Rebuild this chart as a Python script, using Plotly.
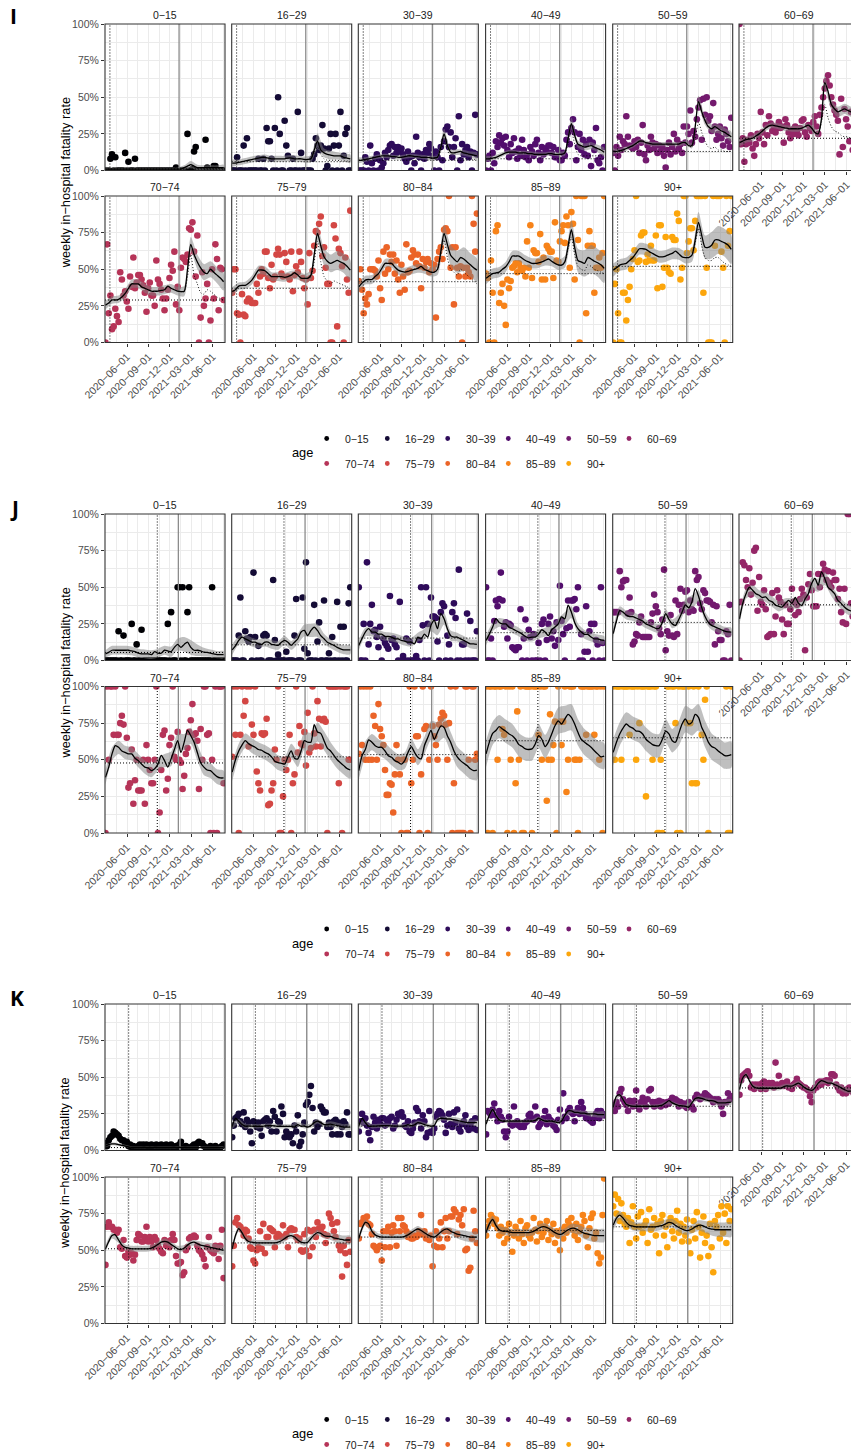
import datetime as dt
import plotly.graph_objects as go

W, H = 851, 1452
FONT = "Liberation Sans, Arial, sans-serif"

age_groups = ["0−15", "16−29", "30−39", "40−49", "50−59", "60−69",
              "70−74", "75−79", "80−84", "85−89", "90+"]
age_colors = ["#000004", "#140B35", "#2E0B5A", "#520E6D", "#731A6E", "#952667",
              "#B63458", "#D34744", "#EB6428", "#F78319", "#FCA60C"]

tick_dates = ["2020-06-01", "2020-09-01", "2020-12-01", "2021-03-01", "2021-06-01"]
tick_labels = ["2020−06−01", "2020−09−01", "2020−12−01", "2021−03−01", "2021−06−01"]
minor_dates = ["2020-04-16", "2020-07-17", "2020-10-16", "2021-01-15", "2021-04-16", "2021-07-16"]
y_ticks = [0, 25, 50, 75, 100]
y_labels = ["0%", "25%", "50%", "75%", "100%"]
y_minor = [12.5, 37.5, 62.5, 87.5]

x_start, x_end, x_end_cut = "2020-02-28", "2021-07-24", "2021-06-20"

# ---------------- panel I: weekly rates (%), one value per week from 2020-03-01
i01_pts = [0,0,0,8,11,0,9,0,0,0, 0,0,12,0,6,0,0,0,8,0, 0,0,0,0,0,0,0,0,0,0, 0,0,0,0,0,0,0,0,0,0,
           0,0,0,2,0,0,0,0,0,0, 25,0,0,1,13,16,0,0,0,0, 0,21,2,0,0,0,3,3,0,0, 0,0,0]
i02_pts = [0,0,0,9,0,0,0,17,0,22, 0,0,0,0,0,0,8,0,0,8, 0,29,20,20,8,0,29,0,50,25, 0,0,34,17,10,0,0,8,0,0,
           40,0,12,0,0,0,0,0,0,8, 11,22,17,14,17,31,15,0,3,15, 25,0,17,25,0,17,40,0,10,25, 29,0,0]
i03_pts = [0,0,0,0,9,6,0,17,5,0, 8,11,0,7,2,5,12,9,14,17, 18,10,16,12,16,13,15,11,8,6, 13,9,0,10,5,23,12,9,0,11,
           8,14,12,18,15,10,0,13,9,0, 16,7,20,28,30,16,26,9,16,22, 0,37,7,18,11,14,16,9,13,0, 12,38,11]
i04_pts = [0,8,10,0,12,5,20,16,24,19, 22,17,23,14,9,18,12,22,13,8, 15,10,21,14,9,11,7,16,13,10, 18,21,12,7,16,11,15,13,17,17,
           12,16,9,9,14,7,7,12,10,21, 26,18,29,35,26,7,16,25,14,21, 11,18,10,21,3,19,14,29,7,5, 9,0,16]
i05_pts = [12,0,16,10,23,14,20,18,37,23, 17,16,15,20,16,21,12,19,31,11, 7,17,14,23,19,15,18,12,17,13, 16,10,2,14,19,11,16,25,13,21,
           15,18,12,30,19,30,25,41,19,27, 23,35,43,48,21,49,38,50,34,37, 27,46,30,21,25,30,22,17,28,25, 20,16,36]
i06_pts = [100,18,22,6,18,21,19,24,15,10, 18,25,22,40,26,18,31,24,37,32, 27,30,26,29,33,29,30,19,35,31, 26,22,28,25,30,27,24,29,34,35,
           26,23,31,29,27,33,37,30,25,38, 43,50,56,61,65,58,50,45,41,38, 34,11,49,16,42,35,30,20,40,14, 35,25,30]
i07_pts = [0,67,20,32,9,11,23,18,14,48, 43,32,35,28,23,45,38,58,37,41, 46,46,43,39,34,21,37,41,32,32, 25,56,43,40,36,30,22,30,36,44,
           53,49,62,26,38,22,51,58,57,55, 60,78,77,82,62,45,73,0,17,48, 25,30,40,0,15,50,30,67,57,22, 51,50,29]
i08_pts = [34,50,50,20,19,0,33,19,18,28, 30,29,27,27,27,40,34,45,50,47, 62,62,44,37,53,43,45,60,64,60, 47,45,61,55,45,43,62,35,46,52,
           48,62,55,44,37,43,26,61,44,49, 66,76,75,81,86,59,65,51,40,40, 0,0,80,71,11,64,61,52,0,58, 43,34,90]
i09_pts = [42,50,36,20,30,26,33,50,50,50, 49,45,56,37,29,62,47,65,50,60, 55,60,47,56,43,34,53,45,36,67, 48,49,58,63,60,54,60,52,37,57,
           51,55,57,48,54,50,53,17,57,62, 65,57,77,78,76,100,51,65,26,65, 51,45,52,0,51,45,51,48,45,100, 81,62,88]
i10_pts = [47,44,0,56,34,0,76,80,27,34, 40,25,12,43,37,42,51,52,54,48, 54,51,49,51,45,69,51,80,44,63, 61,61,55,74,43,58,43,66,64,62,
           62,44,82,56,55,69,76,80,68,86, 80,51,89,81,43,100,70,0,100,100, 100,20,66,76,66,66,34,51,51,58, 51,61,100]
i11_pts = [0,40,50,20,0,0,34,34,15,29, 38,50,57,63,100,55,56,73,75,75, 55,60,56,66,56,56,73,37,80,80, 38,51,72,51,48,47,72,70,70,88,
           83,43,51,100,100,61,69,78,78,63, 83,100,100,100,100,34,100,51,0,0, 0,100,66,100,100,100,62,51,0,100, 66,76,100]

# fitted rate every two weeks
i01_fit = [1,1,1,1,1,1,1,1,1,1,1,1,1,1,1,1,1,1,1,1,1,1,1,1,2,3,4,3,2,2,2,2,2,2,2,2,2]
i02_fit = [5,5,5.5,6,6.5,7,7.5,8,8.5,9,9,8.5,8,8,8,8,8,8.5,8.5,8,8,8,7.5,7.5,8,14,20,14,12,11,10.5,10,10,10,9,8.5,8]
i03_fit = [7,7,7.5,8,8.5,9,9.5,10,10,10,9.5,9.5,9,9,9.5,10,10,9.5,9.5,9,9,9,8.5,8.5,9,16,25,17,12.5,12,12.5,13,12,11.5,11,10.5,10]
i04_fit = [8,8,8.5,9,10,11,12,12.5,12.5,12.5,12,12,12,11.5,11.5,11,11,11,11,11.5,11.5,11,11,11,12,22,32,24,18,17,16,16.5,17,16,15,14,12.5]
i05_fit = [13,13,13.5,14,15,16,17,18.5,20,20,19,18.5,18,18,18,18,18,18,18,18,18,19,19,17,17,30,47,40,34,30,28.5,30,28.5,27,26,24.5,23]
i06_fit = [19,20,21,21.5,22,23.5,25,27,29,30.5,31,30.5,30,29.5,29,28.5,28.5,28.5,28.5,29,30,31,29,26,25,35,60,54,45,42,40,41,42,41,40,39,38]
i07_fit = [25.5,27,29,29,29.5,31,33.5,37,40,40,40,38,37,36,35,35,35,35.5,36,38.5,37,36,35,34.7,35,50,67,60,55,51,48,47,50,48,46,44,41.5]
i08_fit = [34.7,36,38.5,39,39,40.5,42.6,46,49.4,49.5,49,47,45,45,45,45,44.5,45,46,47.6,46,44,43.8,43.8,46,60,74.4,66,58.5,55.5,54,55,56,55,54,52,49.4]
i09_fit = [38,40.5,42.6,43,43,45,47,50.5,54,54,54,51.5,49.4,48.5,48,48.5,49.4,50,50.6,52,50,49,48,48,50,62,74.4,67,59.6,57,55,58,57,55,53,51,49.4]
i10_fit = [43.8,45.5,47,47.5,48,50,51.7,55,59,59,59,57.5,56,55,54,54,54.4,55,56,57,55.5,54,53,52.8,55,66,77,65,56,55,54,58,57,55.5,54.4,53,50.6]
i11_fit = [49.4,51,52.8,53.5,54,56,58,61,64,64,63.5,62,60.8,59.5,58.5,58.5,59,60,60.8,62.4,60.5,58.5,58,58,59.6,70,82,73,65,65,66.4,70,70,69,68,66.5,63.5]

# half-width of the uncertainty band every four weeks
i01_hw = [1.5,1,1,1,1,1,1,1,1,1,1,1,1.5,2.5,2,1.5,1.5,1.5,2]
i02_hw = [2.5,2,2,2,2,2,2,2,2,2,2,2,2.5,5.5,3,3,2.5,2.5,3]
i03_hw = [2,1.5,1.5,1.5,1.5,1.5,1.5,1.5,1.5,1.5,1.5,1.5,1.5,3.5,2,2,2,2,2.5]
i04_hw = [2,1.5,1.5,1.5,1.5,1.5,1.5,1.5,1.5,1.5,1.5,1.5,2,4,2.5,2.5,2.5,2.5,3]
i05_hw = [2,1.5,1.5,1.5,1.5,1.5,1.5,1.5,1.5,1.5,1.5,1.5,2,4,3,3,3,3,3.5]
i06_hw = [2.5,2,2,2,2,2,2,2,2,2,2,2,2.5,4.5,3.5,3.5,3.5,3.5,4]
i07_hw = [3,2.5,2.5,3,3,3,3,3,3,3,3,3,3.5,5,5,5.5,5.5,5.5,6]
i08_hw = [3,2.5,2.5,3,3,3,3,3,3,3,3,3,3.5,5.5,6,6,6.5,6.5,7]
i09_hw = [3.5,3,3,3,3,3,3,3,3,3,3,3,4,6,7,7.5,8,8,8]
i10_hw = [4,3.5,3.5,3.5,3.5,3.5,3.5,3.5,3.5,3.5,3.5,3.5,4,6.5,8,9,9.5,9.5,10]
i11_hw = [4.5,4,4,4,4,4,4,4,4,4,4,4,4.5,7,8,9,9.5,9.5,10]

# counterfactual fit from week 44 on, every two weeks
i01_alt = [1,1,2,3,3.5,2.5,1.5,1.5,1.5,1.5,1.5,1.5,1.5,1.5,1.5]
i02_alt = [7.5,7.5,8,12,16,11,8,7,7,7,7,6.5,6.5,6.5,6.5]
i03_alt = [8.5,8.5,9,13,20,14,9,8,8.5,8.5,8,8,8,7.5,7.5]
i04_alt = [11,11,12,18,27,18,11,10,10,10,10,10,10,10,10]
i05_alt = [19,17,16,22,33,26,20,16,15,16,14,14,13,13,13]
i06_alt = [29,26,25,33,45,36,30,27,26,24,23,23,22,22,22]
i07_alt = [35,34.7,34.7,45,60,46,40,34,33,36,35,33,31,30,29]
i08_alt = [43.8,43.8,45,55,69,55,45,42,40,42,41,40,39,38,37]
i09_alt = [48,48,50,60,70,58,50,48,46,50,48,46,44,42,40]
i10_alt = [52.8,52.8,55,64,72,60,52,50,49,53,52,50,49,48,47]
i11_alt = [58,58,59.6,68,78,66,58,56,56,58,58,56,54,53,52]

i_base = [1, 6, 7, 8, 13, 22, 29, 37, 41.5, 47, 52]
i_vlines = ("2020-03-20", "2021-01-09")

# ---------------- panel J
j01_pts = [0,0,0,0,0,0,0,0,20,0, 0,17,0,0,0,0,25,0,0,11, 0,0,21,0,0,0,0,0,0,0, 0,0,0,0,0,0,0,0,25,0,
           33,0,0,0,50,50,0,50,0,0, 33,50,0,0,0,0,0,0,0,0, 0,0,0,0,0,50,0,0,0,0, 0,0,0]
j02_pts = [0,0,0,0,17,43,0,0,20,15, 13,16,0,60,16,0,10,0,0,17, 18,17,0,0,0,55,14,0,4,0, 0,0,0,6,0,0,0,0,17,42,
           0,0,0,43,8,67,5,0,0,0, 38,0,13,26,0,0,41,0,0,5, 0,16,0,0,40,0,23,0,23,0, 0,39,50]
j03_pts = [50,0,0,25,0,67,11,25,38,20, 21,16,9,23,0,15,12,10,8,44, 14,15,11,9,0,40,0,3,0,15, 0,13,0,0,0,3,0,14,50,24,
           0,50,25,0,43,30,30,29,13,0, 33,39,37,0,17,11,0,33,39,29, 0,62,0,11,11,0,32,0,27,0, 0,0,20]
j04_pts = [50,0,0,15,0,27,41,37,42,60, 41,23,26,15,25,24,9,8,7,9, 9,35,0,15,28,0,21,16,0,18, 0,0,12,0,25,28,0,14,25,30,
           15,20,10,26,14,51,27,18,0,22, 41,23,41,41,42,35,50,0,18,0, 6,37,6,20,25,0,25,14,11,0, 50,12,0]
j05_pts = [33,33,33,33,61,50,54,55,55,32, 43,33,11,13,18,17,26,30,16,16, 16,16,16,26,32,45,37,33,22,18, 28,62,7,20,17,31,17,16,41,18,
           38,49,34,38,47,48,33,41,35,34, 61,55,57,39,35,48,46,41,41,40, 26,38,11,37,20,14,14,0,0,20, 18,38,0]
j06_pts = [0,40,67,65,55,50,63,45,53,75, 77,34,57,40,38,48,35,16,17,18, 46,18,30,48,43,40,28,18,38,25, 25,35,49,40,31,38,33,42,49,45,
           7,43,52,59,48,37,37,37,59,50, 59,66,62,55,61,53,50,60,55,55, 42,49,33,26,49,25,100,100,39,30, 35,40,32]
j07_pts = [0,100,50,100,100,67,100,67,67,75, 80,74,100,65,31,34,57,20,36,50, 29,29,29,50,20,60,50,43,34,34, 50,100,0,14,43,67,70,29,37,60,
           65,100,52,50,69,50,48,30,39,54, 58,69,77,88,67,68,63,30,71,50, 100,100,67,68,0,50,0,100,0,100, 100,100,34]
j08_pts = [52,100,67,100,0,67,100,80,90,100, 59,100,74,67,100,42,34,29,68,67, 68,78,19,20,29,34,57,50,100,0, 0,25,50,43,50,67,0,34,40,100,
           55,73,61,60,69,46,82,55,58,100, 68,59,90,78,59,77,78,76,0,100, 100,100,100,100,100,34,100,0,100,100, 100,50,50]
j09_pts = [54,100,60,100,50,100,50,100,50,80, 73,50,88,71,66,60,43,26,26,34, 33,14,40,60,50,40,0,50,50,0, 0,100,34,50,100,66,66,0,40,100,
           71,73,0,50,100,73,66,60,50,74, 78,82,80,74,50,75,100,0,34,100, 0,0,0,0,0,100,100,50,0,100, 100,50,54]
j10_pts = [100,0,100,100,0,100,100,50,100,100, 71,67,100,0,100,50,100,0,34,83, 50,100,0,0,100,100,100,100,0,100, 100,100,67,100,50,100,100,22,50,81,
           50,60,76,0,100,76,60,76,100,28, 50,100,100,100,50,50,0,50,100,100, 100,67,100,100,100,100,67,100,100,50, 100,0,100]
j11_pts = [100,50,100,100,100,50,100,100,100,100, 67,100,100,100,50,100,75,100,100,100, 25,100,100,100,50,100,100,0,0,50,
           0,None,None,100,100,None,100,100,75,0, 100,0,100,100,100,75,100,75,34,100, 34,34,100,None,67,50,91,100,0,None,
           None,None,None,None,None,None,None,None,None,100, 0,0,100]

j01_fit = [4.5,5.5,7,7,7,7,7,7,6.5,6,5,4.5,4.5,4.5,4,6,5,5,7,6.5,6,9,11,9,11,12.5,9,7,7,6.5,5.7,5.5,5,4.5,4,4,4]
j02_fit = [7.3,10,13.7,16,14.8,13.7,12.5,12.5,11.4,11,12.5,12.5,11,10.7,10.3,12.5,13.7,12.5,10.3,12.5,14.8,19.4,20.5,17,20.5,22.8,20.5,17,14.8,12.5,11.4,10.3,9,8,7.3,7.3,7.3]
j03_fit = [10.3,15,19.4,21.7,19.4,19.4,18,18,16.4,16.4,16,14.8,14.8,13.7,13.2,12.5,12.5,11.4,16,14.8,18,16,24,27.4,21.7,32,28.5,21.7,17,16,16,14.8,13.7,12.5,11.4,11.4,11]
j04_fit = [13.7,18,22.8,28.5,26,25,25,22.8,21.7,20.5,19.4,18,16.4,15.5,16,16,18,21,19.4,17,21,22.8,25,29.7,28.5,37.7,33,26,21.7,19.4,17.8,17.8,16,14.8,14.8,14,13.7]
j05_fit = [18.3,27,34,33,31,30,30,29,28,27,25,24,23,22,22,26,32,28,25,24,28,33,38,36,40,49,44,36,30,26,24,23,22,21,20,19.5,19.4]
j06_fit = [28.5,39,45.6,50,48,45.6,44.5,43,43.4,41,40,37.7,37,36.5,39,41,39,43,39,37.7,42,45.6,52.5,56,51.4,60.5,56,50,48,45.6,41,39,36.5,34.7,33.8,33,32.5]
j07_fit = [38,45,54,59.6,58.5,56,55,54,54,51,49.4,47,45,44.4,42.6,43.8,47,53,49.4,45,50.6,57,63,55,62,70,66.4,62,55,48,45,43,42.6,40.4,38.5,37.6,37.6]
j08_fit = [41.5,50,56,60,63,61,59.6,58.5,57,56.5,55,54,52,49,48,47.5,47,52,56,51,50.6,56,63,62,62,74,69,68,63,58,56,53,50,48,46,44,43]
j09_fit = [42.6,52.8,57,63.5,62,59.6,58.5,58.5,56,52.8,51.7,49.4,48.3,47,49.4,55,59,55,51.7,50.6,59.6,65,70,64,68.7,73,72,66.4,62,56,52,49.4,47.6,46,43.8,42.6,43]
j10_fit = [54,62,68,70,72.6,71,69.4,67.6,66.4,64,60.3,59,57.4,57,57.4,60.8,66.4,64,59,62,67.6,73.2,76.6,74.4,77.8,81,79,74.4,68.7,64,62,60.3,58.5,56.2,54,52,52.5]
j11_fit = [55,62,67.6,71.6,74.4,72.6,71.6,69.6,69.4,67.6,64,62,60.3,59.6,59.6,64,69.6,67.6,63,62,68,74.4,77.8,74.4,75.5,81,79,72,67.6,62,59,58,56,54.4,52.8,52.8,53.5]

j01_hw = [2.5,3,3,3,3,3,3,3,3,3,3.5,4,5,5,4,3,2.5,2.5,2.5]
j02_hw = [3.5,3,3,3,3,3,3,3,3,3,3.5,4,4.5,4.5,3.5,3,3,3,3]
j03_hw = [3.5,3,3,3,3,3,3,3,3,3,3.5,4,4.5,4,3.5,3,3,3,3]
j04_hw = [3.5,3,3,3,3,3,3,3,3,3,3.5,4,4.5,4,3.5,3,3,3,3]
j05_hw = [3.5,3,3,3,3,3,3,3,3,3,3.5,4,4.5,4,3.5,3,3,3,3]
j06_hw = [4,3.5,3.5,3.5,3.5,3.5,3.5,3.5,3.5,3.5,4,4,4.5,4.5,4,3.5,3.5,3.5,3.5]
j07_hw = [5,4.5,4.5,4.5,4.5,4.5,4.5,4.5,4.5,4.5,5,5,5.5,5.5,5.5,5.5,5,5,5]
j08_hw = [6,5,5,5,5,5,5,5,5,5,5.5,6,6.5,6.5,6.5,6,6,6,6]
j09_hw = [6,5.5,5.5,5.5,5.5,5.5,5.5,5.5,5.5,5.5,6,6.5,7,7,7,7,7,7,7]
j10_hw = [9,8,8,8,8,8,8,8,8,8,8.5,9,9,9,9,9,9,9,9]
j11_hw = [9,8,8,8,8,8,8,8,8,8,8.5,9,9,9,9,9,9,9,9]

j_base = [5.5, 10.7, 15.3, 19, 26, 38, 47.8, 52, 53.5, 63, 65]
j_vlines = ("2020-10-08", "2021-01-06")

# ---------------- panel K
k01_pts = [5,3,7,9,10,13,12,11,10,8, 7,7,5,6,3,4,2,3,1,2, 3,4,2,4,1,4,3,2,4,3, 1,4,3,2,4,3,1,4,2,3,
           4,2,1,3,2,4,6,2,1,3, 2,2,1,3,4,2,5,6,5,5, 3,2,1,2,3,2,1,3,2,1, 2,3,4]
k02_pts = [9,17,22,23,25,20,18,26,16,21, 19,13,5,20,19,16,19,15,10,20, 21,22,17,20,13,27,23,13,20,19, 30,25,9,13,11,9,11,5,17,13,
           24,3,6,11,19,31,33,38,44,29, 13,19,16,18,30,28,26,26,16,19, 16,11,20,21,11,19,11,16,20,18, 26,11,11]
k03_pts = [13,20,25,19,22,17,12,7,16,23, 19,15,21,18,22,22,17,21,19,22, 23,15,17,21,25,24,26,23,17,16, 20,13,12,15,19,29,27,20,15,24,
           20,9,12,27,13,12,15,23,25,27, 26,24,21,12,17,25,18,16,26,19, 28,15,13,18,20,24,16,14,18,20, 15,22,14]
k04_pts = [11,27,26,24,28,32,24,20,27,23, 21,13,9,13,23,18,17,30,18,20, 17,16,17,16,19,20,24,25,22,21, 30,23,16,18,20,22,27,18,23,21,
           20,17,16,14,21,28,20,39,23,22, 27,29,26,25,20,26,29,25,33,29, 25,22,23,21,20,19,22,25,27,22, 27,25,24]
k05_pts = [31,27,33,30,39,42,35,33,31,27, 34,33,30,34,41,30,28,33,36,33, 30,35,41,42,33,30,33,31,34,30, 33,32,31,33,32,34,36,34,35,34,
           30,33,31,32,30,29,33,31,30,28, 36,38,37,35,36,37,39,38,37,36, 35,33,35,34,35,33,30,25,33,33, 39,35,37]
k06_pts = [38,48,51,52,53,54,51,43,45,42, 45,44,45,42,46,47,42,45,46,45, 46,43,60,45,51,44,46,44,45,47, 43,44,42,45,46,49,46,45,44,43,
           43,42,41,37,33,41,43,43,46,47, 45,47,47,48,46,48,52,52,51,45, 43,41,43,39,41,39,42,43,41,40, 42,41,40]
k07_pts = [40,66,69,66,66,64,64,62,64,52, 51,57,46,45,49,47,48,43,47,57, 61,60,56,56,59,66,56,59,56,52, 59,57,53,51,49,48,57,53,56,52,
           57,61,57,46,41,41,42,33,35,50, 52,58,59,59,60,59,53,50,49,47, 44,39,52,59,50,49,48,53,51,44, 53,64,31]
k08_pts = [39,53,69,72,67,66,64,60,64,63, 58,52,51,43,41,50,52,63,51,68, 48,59,59,65,64,63,52,59,61,60, 59,67,59,61,52,64,65,64,64,59,
           57,58,50,49,61,50,64,46,63,52, 64,59,69,65,64,66,61,55,60,75, 72,68,63,59,69,53,50,32,53,48, 40,57,49]
k09_pts = [58,68,69,72,70,73,68,67,61,53, 52,50,52,53,43,63,52,63,66,52, 62,67,63,53,72,63,72,67,66,63, 59,61,58,58,60,59,60,63,74,61,
           63,58,59,57,60,39,53,63,52,58, 69,52,63,72,58,63,73,73,78,76, 61,71,74,67,78,50,51,36,38,58, 77,63,55]
k10_pts = [60,66,70,74,72,68,71,65,60,66, 62,55,64,58,68,62,49,60,66,63, 58,70,61,55,65,67,60,58,62,72, 64,56,63,68,59,62,66,70,57,64,
           61,68,55,63,60,50,64,58,66,62, 70,67,72,64,60,68,57,63,66,74, 70,60,52,65,72,75,58,62,48,41, 45,74,99]
k11_pts = [80,88,75,85,70,82,74,68,66,72, 55,69,80,66,58,73,66,76,62,67, 70,55,78,64,66,72,60,68,48,70, 74,60,66,52,69,72,63,58,70,77,
           62,68,56,66,60,71,56,48,64,70, 58,76,66,45,62,73,55,60,46,68, 52,35,70,66,74,58,80,62,75,55, 80,70,78]

k01_fit = [3,4,4.5,4.5,4,3.5,3,2.5,2.2,2,2,2,2.1,2.2,2.2,2.1,2,2,2,2,2,2.1,2.2,2.2,2.1,2,2,2,2,2,2,2,2,2,2,2,2]
k02_fit = [16.6,22,20,17.7,16.6,16.6,16.6,16.5,16.5,16.5,16.8,17,17,16.8,16.5,16.5,16.5,16.5,16.5,16,17.7,16.6,16.6,16,17,19,20,19,17.7,17.7,18,17.5,17,16.5,16,16,16]
k03_fit = [16.6,22,19,16.6,16.6,16.6,16.8,17,17,17,16.8,16.6,16.6,16.6,16.8,17.7,17,17.5,19,18.5,17.7,17.2,16.6,17,21,22,21.8,21.5,21.5,21,20.5,20,19.5,19,19,19,19]
k04_fit = [18,24,28,24,21,20,20,20,20,20,20,20,20,20,20,20.5,22,21,20,20,20,19.5,19,20,24,27,27,26,26,25.5,25.5,25,25,25,24.5,24.5,24.5]
k05_fit = [29.5,37,38,34.8,31.4,30.7,30.2,30.2,30.2,30.2,30.2,30.2,30.2,30.2,30.5,31,32.5,34,32.5,31.5,30.7,30.5,30.2,29.5,32.5,35.5,36,35.5,34.8,34,34,33.5,32.5,32.5,32.5,32.8,33]
k06_fit = [41.6,49.5,51.8,47.7,44,42.7,42.5,42.5,42.5,42.5,42.5,42.5,42.5,43,44,44,44,45,46,44.5,42.7,41.6,41,42.7,46,47.7,47,46,46,45,44,42.7,41.6,40.5,40.5,40.5,40.5]
k07_fit = [51,56,60,60.5,57,53.5,52,51.5,51,51,51,51,51,51,51.5,52.5,54,55.5,56,55.5,54,52.5,51,50.5,51.5,53.5,55,55.5,54.5,53.5,53,52.5,52,51.5,51,50.5,50]
k08_fit = [51,60,64.8,62,58,56,55.5,55,55,55,55,55,55,55,55.5,56.5,58,59.5,60,59,57,55.5,55,55.5,58,60.5,62,61.5,60,59.5,59.5,58.5,58,57.5,57,57,57]
k09_fit = [58,65,69,68,63,60.5,59.5,59,59,59,59,59,59,59,59.5,60.5,62,63.5,64.5,63.5,62,60.5,59.5,59,60.5,62.5,64,64.5,63,62,61,60.5,60,59.5,59,59,59]
k10_fit = [62,68,71,67,64,63,63,62.5,62,62,62,62,62,62,62.5,63.5,65,66,66,65,63.5,62,61,61,62.5,64,65,65,64,62.5,61.5,61,60.5,60,60,60,60]
k11_fit = [67,72,74,72,69,67,66.5,66,66,66,66,66,66,66,66.5,67,68,69,68.5,67,65.5,64.5,63.5,63.5,64.5,66,67,67,66,65,64.5,64,64,64,64,64,64]

k01_hw = [1,1,1,1,0.7,0.7,0.7,0.7,0.7,0.7,0.7,0.7,0.7,0.7,0.7,0.7,0.7,0.7,0.7]
k02_hw = [2,1.5,1.5,1.5,1.5,1.5,1.5,1.5,1.5,1.5,1.5,1.5,1.5,1.5,1.5,2,2,2,2]
k03_hw = [2,1.5,1.5,1.5,1.5,1.5,1.5,1.5,1.5,1.5,1.5,1.5,1.5,1.5,1.5,2,2,2,2]
k04_hw = [2,1.2,1.2,1.2,1.2,1.2,1.2,1.2,1.2,1.2,1.2,1.2,1.2,1.5,1.5,1.5,2,2,2]
k05_hw = [2,1.2,1.2,1.2,1.2,1.2,1.2,1.2,1.2,1.2,1.2,1.2,1.2,1.5,1.5,1.5,2,2,2]
k06_hw = [2,1.5,1.5,1.5,1.5,1.5,1.5,1.5,1.5,1.5,1.5,1.5,1.5,1.5,1.5,2,2,2,2]
k07_hw = [2.5,2,2,2,2,2,2,2,2,2,2,2,2,2,2,2.5,3,3,3]
k08_hw = [2.5,2,2,2,2,2,2,2,2,2,2,2,2,2,2,2.5,3,3,3]
k09_hw = [2.5,2,2,2,2,2,2,2,2,2,2,2,2,2,2.5,3,3.5,3.5,3.5]
k10_hw = [3,2.5,2.5,2.5,2.5,2.5,2.5,2.5,2.5,2.5,2.5,2.5,2.5,3,3.5,4,4.5,4.5,4.5]
k11_hw = [3.5,3,3,3,3,3,3,3,3,3,3,3,3,3.5,4,4.5,5,5,5]

k_base = [2, 16.6, 16.6, 20.5, 30.2, 42.7, 51, 55, 59, 63.5, 66]
k_vlines = ("2020-06-08", "2021-01-13")

# ---------------- assembly
panels = [
    dict(letter="I",
         pts=[i01_pts, i02_pts, i03_pts, i04_pts, i05_pts, i06_pts, i07_pts, i08_pts, i09_pts, i10_pts, i11_pts],
         fit=[i01_fit, i02_fit, i03_fit, i04_fit, i05_fit, i06_fit, i07_fit, i08_fit, i09_fit, i10_fit, i11_fit],
         hw=[i01_hw, i02_hw, i03_hw, i04_hw, i05_hw, i06_hw, i07_hw, i08_hw, i09_hw, i10_hw, i11_hw],
         alt=[i01_alt, i02_alt, i03_alt, i04_alt, i05_alt, i06_alt, i07_alt, i08_alt, i09_alt, i10_alt, i11_alt],
         base=i_base, vlines=i_vlines, tops=(24, 196), letter_y=16),
    dict(letter="J",
         pts=[j01_pts, j02_pts, j03_pts, j04_pts, j05_pts, j06_pts, j07_pts, j08_pts, j09_pts, j10_pts, j11_pts],
         fit=[j01_fit, j02_fit, j03_fit, j04_fit, j05_fit, j06_fit, j07_fit, j08_fit, j09_fit, j10_fit, j11_fit],
         hw=[j01_hw, j02_hw, j03_hw, j04_hw, j05_hw, j06_hw, j07_hw, j08_hw, j09_hw, j10_hw, j11_hw],
         alt=None, base=j_base, vlines=j_vlines, tops=(514, 686.5), letter_y=508),
    dict(letter="K",
         pts=[k01_pts, k02_pts, k03_pts, k04_pts, k05_pts, k06_pts, k07_pts, k08_pts, k09_pts, k10_pts, k11_pts],
         fit=[k01_fit, k02_fit, k03_fit, k04_fit, k05_fit, k06_fit, k07_fit, k08_fit, k09_fit, k10_fit, k11_fit],
         hw=[k01_hw, k02_hw, k03_hw, k04_hw, k05_hw, k06_hw, k07_hw, k08_hw, k09_hw, k10_hw, k11_hw],
         alt=None, base=k_base, vlines=k_vlines, tops=(1004, 1177), letter_y=998),
]

first_week = dt.date(2020, 3, 1)
week_dates = [(first_week + dt.timedelta(days=7 * w)).isoformat() for w in range(73)]
fit_dates = week_dates[::2]
band_dates = week_dates[::4]
alt_dates = week_dates[44::2]

col_lefts = [105, 231.7, 358.3, 485.6, 612.7, 739]
FW, FH = 120, 146.5
GRID = "#EBEBEB"
BORDER = "#333333"
DOT = "1px,2px"
legend_x = [326.7, 387.3, 447.7, 508.3, 568.7, 629]


def px_x(v):
    return v / W


def px_y(v):
    return 1 - v / H


fig = go.Figure()
layout_axes = {}
shapes = []
annotations = []

for p, panel in enumerate(panels):
    vdot, vsolid = panel["vlines"]
    for f in range(11):
        n = p * 11 + f + 1
        xs = "x" if n == 1 else f"x{n}"
        ys = "y" if n == 1 else f"y{n}"
        row, col = divmod(f, 6)
        left = col_lefts[col]
        right = W if col == 5 else left + FW
        top = panel["tops"][row]
        bottom = top + FH
        color = age_colors[f]
        fit = panel["fit"][f]
        hw = panel["hw"][f]
        band_fit = fit[::2]
        upper = [a + b for a, b in zip(band_fit, hw)]
        lower = [a - b for a, b in zip(band_fit, hw)]
        common = dict(xaxis=xs, yaxis=ys, hoverinfo="skip", showlegend=False)

        fig.add_trace(go.Scatter(x=week_dates, y=panel["pts"][f], mode="markers",
                                 marker=dict(color=color, size=6.6, line=dict(width=0)), **common))
        fig.add_trace(go.Scatter(x=band_dates + band_dates[::-1], y=upper + lower[::-1],
                                 mode="lines", fill="toself", fillcolor="rgba(128,128,128,0.5)",
                                 line=dict(width=0, shape="spline", smoothing=0.7), **common))
        fig.add_trace(go.Scatter(x=[vdot, vdot], y=[0, 100], mode="lines",
                                 line=dict(color="black", width=1, dash=DOT), **common))
        fig.add_trace(go.Scatter(x=[vsolid, vsolid], y=[0, 100], mode="lines",
                                 line=dict(color="#8C8C8C", width=1.3), **common))
        fig.add_trace(go.Scatter(x=[x_start, x_end], y=[panel["base"][f]] * 2, mode="lines",
                                 line=dict(color="black", width=1, dash=DOT), **common))
        if panel["alt"] is not None:
            fig.add_trace(go.Scatter(x=alt_dates, y=panel["alt"][f], mode="lines",
                                     line=dict(color="black", width=0.9, dash=DOT, shape="spline",
                                               smoothing=0.7), **common))
        fig.add_trace(go.Scatter(x=fit_dates, y=fit, mode="lines",
                                 line=dict(color="black", width=1.3, shape="spline", smoothing=0.7),
                                 **common))

        show_x = row == 1 or col == 5
        show_y = col == 0
        layout_axes["xaxis" if n == 1 else f"xaxis{n}"] = dict(
            domain=[px_x(left), px_x(right)], anchor=ys, type="date", automargin=False,
            range=[x_start, x_end_cut if col == 5 else x_end],
            tickmode="array", tickvals=tick_dates, ticktext=tick_labels,
            showticklabels=show_x, ticks="outside" if show_x else "", ticklen=3,
            tickwidth=1, tickcolor=BORDER, tickangle=-45, ticklabeloverflow="allow",
            tickfont=dict(size=10.5, color="#4D4D4D", family=FONT),
            showgrid=True, gridcolor=GRID, gridwidth=1.1,
            minor=dict(tickmode="array", tickvals=minor_dates, showgrid=True,
                       gridcolor=GRID, gridwidth=0.55),
            zeroline=False, showline=False, fixedrange=True)
        layout_axes["yaxis" if n == 1 else f"yaxis{n}"] = dict(
            domain=[px_y(bottom), px_y(top)], anchor=xs, range=[0, 100], automargin=False,
            tickmode="array", tickvals=y_ticks, ticktext=y_labels,
            showticklabels=show_y, ticks="outside" if show_y else "", ticklen=3,
            tickwidth=1, tickcolor=BORDER,
            tickfont=dict(size=10.5, color="#4D4D4D", family=FONT),
            showgrid=True, gridcolor=GRID, gridwidth=1.1,
            minor=dict(tickmode="array", tickvals=y_minor, showgrid=True,
                       gridcolor=GRID, gridwidth=0.55),
            zeroline=False, showline=False, fixedrange=True)

        shapes.append(dict(type="rect", xref=f"{xs} domain", yref=f"{ys} domain",
                           x0=0, x1=FW / (right - left), y0=0, y1=1,
                           line=dict(color=BORDER, width=1.1),
                           fillcolor="rgba(0,0,0,0)", layer="above"))
        annotations.append(dict(text=age_groups[f], x=px_x(left + FW / 2), y=px_y(top - 9),
                                xref="paper", yref="paper", showarrow=False,
                                xanchor="center", yanchor="middle",
                                font=dict(size=10.5, color="#1A1A1A", family=FONT)))

    top0, top1 = panel["tops"]
    annotations.append(dict(text="weekly in−hospital fatality rate", x=px_x(65),
                            y=px_y((top0 + top1 + FH) / 2), xref="paper", yref="paper",
                            showarrow=False, textangle=-90, xanchor="center", yanchor="middle",
                            font=dict(size=12.8, color="black", family=FONT)))
    annotations.append(dict(text=f"<b>{panel['letter']}</b>", x=px_x(8), y=px_y(panel["letter_y"]),
                            xref="paper", yref="paper", showarrow=False,
                            xanchor="left", yanchor="middle",
                            font=dict(size=21, color="black", family="Open Sans, sans-serif")))

    # colour key below each panel
    ly = top1 + FH + 96
    annotations.append(dict(text="age", x=px_x(290), y=px_y(ly + 14), xref="paper", yref="paper",
                            showarrow=False, xanchor="left", yanchor="middle",
                            font=dict(size=12.8, color="black", family=FONT)))
    for i, (grp, c) in enumerate(zip(age_groups, age_colors)):
        r, cc = divmod(i, 6)
        dx, dy = legend_x[cc], ly + 25 * r
        rad = 2.4
        shapes.append(dict(type="circle", xref="paper", yref="paper",
                           x0=px_x(dx - rad), x1=px_x(dx + rad),
                           y0=px_y(dy + rad), y1=px_y(dy - rad),
                           fillcolor=c, line=dict(width=0), layer="above"))
        annotations.append(dict(text=grp, x=px_x(dx + 16), y=px_y(dy), xref="paper", yref="paper",
                                showarrow=False, xanchor="left", yanchor="middle",
                                font=dict(size=10.5, color="#1A1A1A", family=FONT)))

# transparent panel backgrounds so tick labels of one facet are not covered by its neighbour
fig.update_layout(template="none", width=W, height=H, margin=dict(l=0, r=0, t=0, b=0, pad=0),
                  paper_bgcolor="white", plot_bgcolor="rgba(0,0,0,0)", showlegend=False,
                  hovermode=False, font=dict(family=FONT),
                  shapes=shapes, annotations=annotations, **layout_axes)

fig.write_html("out.html")
